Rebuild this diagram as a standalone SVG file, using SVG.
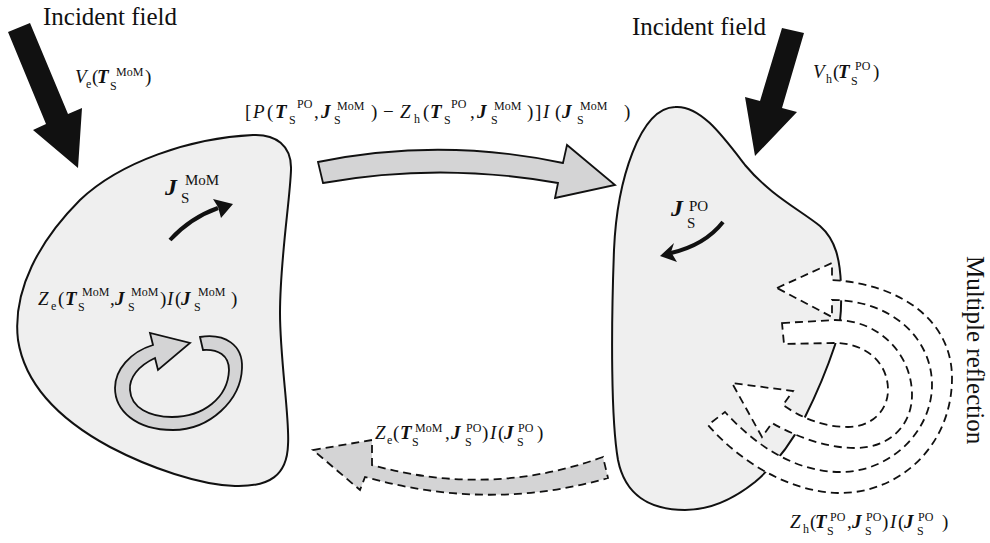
<svg xmlns="http://www.w3.org/2000/svg" width="990" height="543" viewBox="0 0 990 543">
  <style>
    .body { fill: #efefef; stroke: #111; stroke-width: 2; stroke-linejoin: round; }
    .flow { fill: #d4d4d5; stroke: #111; stroke-width: 1.8; stroke-linejoin: miter; }
    .flow-dash { fill: #d4d4d5; stroke: #111; stroke-width: 1.8; stroke-dasharray: 8 5; }
    .refl { fill: #ffffff; stroke: #111; stroke-width: 1.8; stroke-dasharray: 8 5; }
    .solid { fill: #111; stroke: none; }
    .cur { fill: none; stroke: #111; stroke-width: 4; stroke-linecap: butt; }
    .title { font-family: "Liberation Serif", "Times New Roman", serif; font-size: 25px; fill: #111; }
    .eq { font-family: "Liberation Serif", "Times New Roman", serif; font-size: 19px; fill: #111; }
    .it { font-style: italic; }
    .bi { font-style: italic; font-weight: bold; }
    .sc { font-size: 12px; font-style: normal; font-weight: normal; }
    .jl { font-size: 24px; }
    .js { font-size: 15px; font-style: normal; font-weight: normal; }
  </style>

  <!-- MoM region -->
  <g id="region-mom">
    <path class="body" d="M 253,135 C 275,134 292,145 291,170 C 290,200 280,260 280,313 C 280,360 290,420 288,445 C 287,475 270,487 235,486 C 200,485 150,468 110,447 C 60,420 25,385 18,340 C 12,290 40,240 80,200 C 120,162 190,138 253,135 Z"/>
    <text class="eq"><tspan class="bi jl" x="165" y="195">J</tspan><tspan class="js" x="181" y="203">S</tspan><tspan class="js" x="185" y="185">MoM</tspan></text>
    <path class="cur" d="M 170,240 Q 190,218 218,208"/>
    <path class="solid" d="M 233,204 L 213,199 L 218,207 L 221,218 Z"/>
    <text class="eq"><tspan class="it" x="38" y="305">Z</tspan><tspan class="sc" x="51" y="310">e</tspan><tspan x="58" y="305">(</tspan><tspan class="bi" x="65" y="305">T</tspan><tspan class="sc" x="78" y="311">S</tspan><tspan class="sc" x="82" y="296">MoM</tspan><tspan x="110" y="305">,</tspan><tspan class="bi" x="115" y="305">J</tspan><tspan class="sc" x="128" y="311">S</tspan><tspan class="sc" x="131" y="296">MoM</tspan><tspan x="160" y="305">)</tspan><tspan class="it" x="167" y="305">I</tspan><tspan x="175" y="305">(</tspan><tspan class="bi" x="181" y="305">J</tspan><tspan class="sc" x="194" y="311">S</tspan><tspan class="sc" x="198" y="296">MoM</tspan><tspan x="231" y="305">)</tspan></text>
  </g>

  <!-- PO region -->
  <g id="region-po">
    <path class="body" d="M 675,107 C 700,105 722,135 745,165 C 770,195 800,210 820,226 C 836,240 840,260 841,285 C 842,310 840,330 835,345 C 826,372 816,395 805,417 C 792,442 775,465 755,482 C 735,498 712,510 685,510 C 650,510 625,495 618,460 C 611,420 611,330 614,250 C 617,180 640,108 675,107 Z"/>
    <text class="eq"><tspan class="bi jl" x="671" y="216">J</tspan><tspan class="js" x="687" y="228">S</tspan><tspan class="js" x="689" y="211">PO</tspan></text>
    <path class="cur" d="M 723,222 Q 705,245 671,253"/>
    <path class="solid" d="M 660,256 L 674,243 L 671,252 L 677,262 Z"/>
  </g>

  <!-- incident field, MoM side -->
  <g id="incident-mom">
    <text class="title" x="43" y="25">Incident field</text>
    <path class="solid" d="M 8,32 L 30,23 L 68,114 L 82,108 L 78,168 L 33,130 L 46,124 Z"/>
    <text class="eq"><tspan class="it" x="75" y="83">V</tspan><tspan class="sc" x="86" y="88">e</tspan><tspan x="92" y="83">(</tspan><tspan class="bi" x="97" y="83">T</tspan><tspan class="sc" x="110" y="90">S</tspan><tspan class="sc" x="116" y="76">MoM</tspan><tspan x="145" y="83">)</tspan></text>
  </g>

  <!-- incident field, PO side -->
  <g id="incident-po">
    <text class="title" x="632" y="35">Incident field</text>
    <path class="solid" d="M 782,28 L 804,33 L 782,108 L 797,112 L 755,156 L 745,97 L 760,101 Z"/>
    <text class="eq"><tspan class="it" x="813" y="78">V</tspan><tspan class="sc" x="826" y="83">h</tspan><tspan x="833" y="78">(</tspan><tspan class="bi" x="838" y="78">T</tspan><tspan class="sc" x="851" y="85">S</tspan><tspan class="sc" x="855" y="70">PO</tspan><tspan x="873" y="78">)</tspan></text>
  </g>

  <!-- interactions -->
  <g id="connectors">
    <!-- MoM -> PO coupling -->
    <path class="flow" d="M 318,162 Q 440,137 563,163 L 567,145 L 615,185 L 555,198 L 558,183 Q 440,162 323,183 Z"/>
    <text class="eq"><tspan x="245" y="118">[</tspan><tspan class="it" x="253" y="118">P</tspan><tspan x="267" y="118">(</tspan><tspan class="bi" x="275" y="118">T</tspan><tspan class="sc" x="289" y="124">S</tspan><tspan class="sc" x="297" y="108">PO</tspan><tspan x="314" y="118">,</tspan><tspan class="bi" x="321" y="118">J</tspan><tspan class="sc" x="334" y="124">S</tspan><tspan class="sc" x="337" y="110">MoM</tspan><tspan x="371" y="118">)</tspan><tspan x="383" y="118">−</tspan><tspan class="it" x="400" y="118">Z</tspan><tspan class="sc" x="414" y="123">h</tspan><tspan x="423" y="118">(</tspan><tspan class="bi" x="430" y="118">T</tspan><tspan class="sc" x="444" y="124">S</tspan><tspan class="sc" x="451" y="108">PO</tspan><tspan x="470" y="118">,</tspan><tspan class="bi" x="477" y="118">J</tspan><tspan class="sc" x="491" y="124">S</tspan><tspan class="sc" x="494" y="110">MoM</tspan><tspan x="527" y="118">)</tspan><tspan x="535" y="118">]</tspan><tspan class="it" x="543" y="118">I</tspan><tspan x="555" y="118">(</tspan><tspan class="bi" x="562" y="118">J</tspan><tspan class="sc" x="577" y="124">S</tspan><tspan class="sc" x="580" y="110">MoM</tspan><tspan x="624" y="118">)</tspan></text>

    <!-- PO -> MoM coupling -->
    <path class="flow-dash" d="M 603,457 Q 490,498 372,465 L 372,440 L 313,450 L 360,490 L 365,477 Q 490,512 608,478 Z"/>
    <text class="eq"><tspan class="it" x="375" y="439">Z</tspan><tspan class="sc" x="387" y="444">e</tspan><tspan x="393" y="439">(</tspan><tspan class="bi" x="400" y="439">T</tspan><tspan class="sc" x="412" y="446">S</tspan><tspan class="sc" x="415" y="432">MoM</tspan><tspan x="445" y="439">,</tspan><tspan class="bi" x="451" y="439">J</tspan><tspan class="sc" x="465" y="446">S</tspan><tspan class="sc" x="466" y="432">PO</tspan><tspan x="482" y="439">)</tspan><tspan class="it" x="490" y="439">I</tspan><tspan x="498" y="439">(</tspan><tspan class="bi" x="504" y="439">J</tspan><tspan class="sc" x="517" y="446">S</tspan><tspan class="sc" x="518" y="432">PO</tspan><tspan x="537" y="439">)</tspan></text>

    <!-- MoM self interaction -->
    <path class="flow" d="M 200,337 C 225,333 243,345 242,368 C 241,400 210,430 173,430 C 135,430 115,410 115,388 C 115,370 130,352 153,345 L 150,333 L 190,343 L 158,370 L 155,358 C 138,366 129,378 130,390 C 131,408 150,417 172,417 C 203,417 228,398 229,370 C 229,355 218,349 203,350 Z"/>

    <!-- PO multiple reflection -->
    <path class="refl" d="M 777,288 L 832,263 L 832,280 C 900,284 952,320 952,378 C 952,445 900,494 838,493 C 790,492 740,462 708,425 L 725,412 C 755,445 795,472 840,472 C 892,472 932,430 932,385 C 932,337 890,300 832,300 L 832,317 Z"/>
    <path class="refl" d="M 782,323 L 835,320 C 880,320 912,355 912,395 C 912,425 890,448 855,448 C 825,448 795,436 772,423 L 762,437 L 732,383 L 793,391 L 783,405 C 800,417 822,427 848,427 C 872,427 888,410 888,390 C 888,362 865,343 835,343 L 784,344 Z"/>
    <text class="title" transform="translate(967,256) rotate(90)">Multiple reflection</text>
    <text class="eq"><tspan class="it" x="790" y="528">Z</tspan><tspan class="sc" x="803" y="533">h</tspan><tspan x="810" y="528">(</tspan><tspan class="bi" x="815" y="528">T</tspan><tspan class="sc" x="827" y="535">S</tspan><tspan class="sc" x="830" y="521">PO</tspan><tspan x="847" y="528">,</tspan><tspan class="bi" x="852" y="528">J</tspan><tspan class="sc" x="865" y="535">S</tspan><tspan class="sc" x="866" y="521">PO</tspan><tspan x="882" y="528">)</tspan><tspan class="it" x="890" y="528">I</tspan><tspan x="898" y="528">(</tspan><tspan class="bi" x="904" y="528">J</tspan><tspan class="sc" x="917" y="535">S</tspan><tspan class="sc" x="918" y="521">PO</tspan><tspan x="942" y="528">)</tspan></text>
  </g>
</svg>
